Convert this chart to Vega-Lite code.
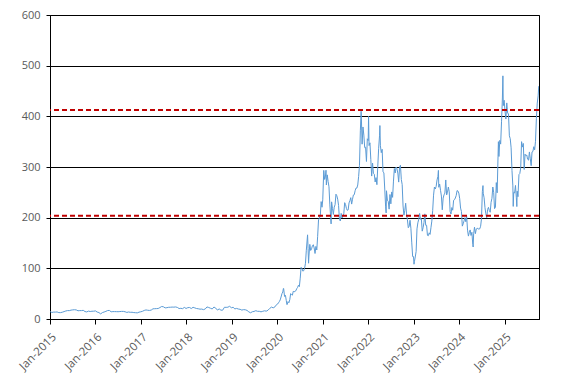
{
  "$schema": "https://vega.github.io/schema/vega-lite/v6.json",
  "width": 489,
  "height": 304,
  "autosize": {"type": "none"},
  "padding": {"left": 50, "top": 15, "right": 28, "bottom": 63},
  "background": "white",
  "config": {
    "view": {"stroke": "black", "strokeWidth": 1},
    "font": "Open Sans"
  },
  "datasets": {
    "price": [
      {"d":"2015-01-02","p":14.6},{"d":"2015-01-16","p":12.9},{"d":"2015-01-30","p":13.6},{"d":"2015-02-13","p":13.6},{"d":"2015-02-27","p":13.9},{"d":"2015-03-13","p":12.6},{"d":"2015-03-27","p":12.6},{"d":"2015-04-10","p":13.4},{"d":"2015-04-24","p":14.6},{"d":"2015-05-08","p":15.8},{"d":"2015-05-22","p":16.6},{"d":"2015-06-05","p":16.5},{"d":"2015-06-19","p":17.5},{"d":"2015-07-03","p":18.0},{"d":"2015-07-17","p":18.3},{"d":"2015-07-31","p":17.9},{"d":"2015-08-14","p":16.2},{"d":"2015-08-28","p":16.6},{"d":"2015-09-11","p":16.6},{"d":"2015-09-25","p":17.1},{"d":"2015-10-09","p":14.7},{"d":"2015-10-23","p":14.0},{"d":"2015-11-06","p":15.5},{"d":"2015-11-20","p":14.8},{"d":"2015-12-04","p":15.3},{"d":"2015-12-18","p":15.4},
      {"d":"2016-01-01","p":16.0},{"d":"2016-01-15","p":13.7},{"d":"2016-01-29","p":12.7},{"d":"2016-02-12","p":10.1},{"d":"2016-02-26","p":12.7},{"d":"2016-03-11","p":13.8},{"d":"2016-03-25","p":15.1},{"d":"2016-04-08","p":16.7},{"d":"2016-04-22","p":16.9},{"d":"2016-05-06","p":14.2},{"d":"2016-05-20","p":14.6},{"d":"2016-06-03","p":14.6},{"d":"2016-06-17","p":14.5},{"d":"2016-07-01","p":14.4},{"d":"2016-07-15","p":14.7},{"d":"2016-07-29","p":15.0},{"d":"2016-08-12","p":15.0},{"d":"2016-08-26","p":14.3},{"d":"2016-09-09","p":13.0},{"d":"2016-09-23","p":13.8},{"d":"2016-10-07","p":13.2},{"d":"2016-10-21","p":13.3},{"d":"2016-11-04","p":12.7},{"d":"2016-11-18","p":12.4},{"d":"2016-12-02","p":12.1},{"d":"2016-12-16","p":13.5},{"d":"2016-12-30","p":14.2},
      {"d":"2017-01-13","p":15.2},{"d":"2017-01-27","p":16.9},{"d":"2017-02-10","p":17.9},{"d":"2017-02-24","p":17.3},{"d":"2017-03-10","p":16.9},{"d":"2017-03-24","p":17.6},{"d":"2017-04-07","p":20.1},{"d":"2017-04-21","p":20.3},{"d":"2017-05-05","p":20.5},{"d":"2017-05-19","p":20.7},{"d":"2017-06-02","p":22.6},{"d":"2017-06-16","p":24.7},{"d":"2017-06-30","p":24.1},{"d":"2017-07-14","p":21.9},{"d":"2017-07-28","p":22.3},{"d":"2017-08-11","p":23.1},{"d":"2017-08-25","p":23.2},{"d":"2017-09-08","p":23.5},{"d":"2017-09-22","p":23.4},{"d":"2017-10-06","p":23.8},{"d":"2017-10-20","p":22.9},{"d":"2017-11-03","p":20.6},{"d":"2017-11-17","p":21.1},{"d":"2017-12-01","p":20.4},{"d":"2017-12-15","p":22.9},{"d":"2017-12-29","p":20.8},
      {"d":"2018-01-12","p":22.4},{"d":"2018-01-26","p":22.7},{"d":"2018-02-09","p":20.7},{"d":"2018-02-23","p":23.1},{"d":"2018-03-09","p":21.9},{"d":"2018-03-23","p":20.7},{"d":"2018-04-06","p":20.2},{"d":"2018-04-20","p":19.4},{"d":"2018-05-04","p":19.6},{"d":"2018-05-18","p":18.5},{"d":"2018-06-01","p":19.8},{"d":"2018-06-15","p":23.8},{"d":"2018-06-29","p":22.7},{"d":"2018-07-13","p":21.2},{"d":"2018-07-27","p":19.8},{"d":"2018-08-10","p":23.6},{"d":"2018-08-24","p":21.5},{"d":"2018-09-07","p":17.6},{"d":"2018-09-21","p":19.9},{"d":"2018-10-05","p":17.4},{"d":"2018-10-19","p":17.4},{"d":"2018-11-02","p":23.1},{"d":"2018-11-16","p":23.0},{"d":"2018-11-30","p":23.3},{"d":"2018-12-14","p":25.1},{"d":"2018-12-28","p":22.2},
      {"d":"2019-01-11","p":23.1},{"d":"2019-01-25","p":19.9},{"d":"2019-02-08","p":20.9},{"d":"2019-02-22","p":19.7},{"d":"2019-03-08","p":19.1},{"d":"2019-03-22","p":17.6},{"d":"2019-04-05","p":18.5},{"d":"2019-04-19","p":18.2},{"d":"2019-05-03","p":16.9},{"d":"2019-05-17","p":14.1},{"d":"2019-05-31","p":12.3},{"d":"2019-06-14","p":14.3},{"d":"2019-06-28","p":14.9},{"d":"2019-07-12","p":16.4},{"d":"2019-07-26","p":15.2},{"d":"2019-08-09","p":15.2},{"d":"2019-08-23","p":14.1},{"d":"2019-09-06","p":15.2},{"d":"2019-09-20","p":16.2},{"d":"2019-10-04","p":15.5},{"d":"2019-10-18","p":17.3},{"d":"2019-11-01","p":20.9},{"d":"2019-11-15","p":23.5},{"d":"2019-11-29","p":22.0},{"d":"2019-12-13","p":24.0},{"d":"2019-12-27","p":28.7},
      {"d":"2020-01-03","p":29.5},{"d":"2020-01-10","p":31.9},{"d":"2020-01-17","p":34.3},{"d":"2020-01-24","p":37.6},{"d":"2020-01-31","p":43.4},{"d":"2020-02-07","p":49.9},{"d":"2020-02-14","p":53.3},{"d":"2020-02-19","p":60.5},{"d":"2020-02-21","p":60.0},{"d":"2020-02-28","p":44.5},{"d":"2020-03-06","p":46.9},{"d":"2020-03-13","p":36.4},{"d":"2020-03-18","p":28.5},{"d":"2020-03-20","p":28.5},{"d":"2020-03-27","p":34.3},{"d":"2020-04-03","p":32.1},{"d":"2020-04-10","p":38.0},{"d":"2020-04-17","p":50.1},{"d":"2020-04-24","p":48.3},{"d":"2020-05-01","p":47.0},{"d":"2020-05-08","p":54.6},{"d":"2020-05-15","p":53.6},{"d":"2020-05-22","p":54.7},{"d":"2020-05-29","p":55.7},{"d":"2020-06-05","p":59.9},{"d":"2020-06-12","p":62.4},{"d":"2020-06-19","p":66.7},{"d":"2020-06-26","p":63.9},{"d":"2020-07-03","p":80.6},{"d":"2020-07-10","p":102.0},{"d":"2020-07-17","p":100.1},{"d":"2020-07-24","p":94.5},{"d":"2020-07-31","p":95.4},{"d":"2020-08-07","p":99.9},{"d":"2020-08-14","p":110.0},{"d":"2020-08-21","p":135.7},{"d":"2020-08-31","p":166.1},{"d":"2020-09-04","p":139.4},{"d":"2020-09-08","p":110.1},{"d":"2020-09-11","p":124.2},{"d":"2020-09-18","p":147.3},{"d":"2020-09-25","p":135.3},{"d":"2020-10-02","p":138.4},{"d":"2020-10-09","p":144.7},{"d":"2020-10-16","p":146.6},{"d":"2020-10-23","p":140.2},{"d":"2020-10-30","p":129.3},{"d":"2020-11-06","p":143.3},{"d":"2020-11-13","p":136.2},{"d":"2020-11-20","p":163.2},{"d":"2020-11-27","p":195.6},{"d":"2020-12-04","p":199.3},{"d":"2020-12-11","p":203.3},{"d":"2020-12-18","p":231.7},{"d":"2020-12-25","p":220.6},{"d":"2020-12-31","p":235.2},
      {"d":"2021-01-08","p":293.3},{"d":"2021-01-15","p":275.4},{"d":"2021-01-22","p":282.0},{"d":"2021-01-26","p":293.6},{"d":"2021-01-29","p":264.5},{"d":"2021-02-05","p":284.5},{"d":"2021-02-12","p":271.4},{"d":"2021-02-19","p":260.9},{"d":"2021-02-26","p":225.2},{"d":"2021-03-05","p":199.3},{"d":"2021-03-08","p":187.7},{"d":"2021-03-12","p":231.2},{"d":"2021-03-19","p":218.3},{"d":"2021-03-26","p":206.2},{"d":"2021-04-02","p":220.6},{"d":"2021-04-09","p":225.7},{"d":"2021-04-16","p":246.3},{"d":"2021-04-23","p":243.3},{"d":"2021-04-30","p":236.5},{"d":"2021-05-07","p":224.2},{"d":"2021-05-14","p":196.6},{"d":"2021-05-21","p":193.5},{"d":"2021-05-28","p":208.4},{"d":"2021-06-04","p":199.3},{"d":"2021-06-11","p":203.3},{"d":"2021-06-18","p":207.8},{"d":"2021-06-25","p":229.6},{"d":"2021-07-02","p":226.0},{"d":"2021-07-09","p":218.2},{"d":"2021-07-16","p":214.4},{"d":"2021-07-23","p":215.3},{"d":"2021-07-30","p":229.1},{"d":"2021-08-06","p":233.4},{"d":"2021-08-13","p":239.5},{"d":"2021-08-20","p":226.8},{"d":"2021-08-27","p":236.4},{"d":"2021-09-03","p":244.7},{"d":"2021-09-10","p":245.3},{"d":"2021-09-17","p":253.2},{"d":"2021-09-24","p":258.4},{"d":"2021-10-01","p":258.4},{"d":"2021-10-08","p":264.5},{"d":"2021-10-15","p":281.0},{"d":"2021-10-22","p":303.2},{"d":"2021-10-29","p":371.3},{"d":"2021-11-04","p":410.0},{"d":"2021-11-05","p":407.4},{"d":"2021-11-12","p":345.0},{"d":"2021-11-19","p":379.0},{"d":"2021-11-26","p":363.0},{"d":"2021-12-03","p":338.3},{"d":"2021-12-10","p":339.0},{"d":"2021-12-17","p":310.9},{"d":"2021-12-24","p":355.7},{"d":"2021-12-31","p":352.3},
      {"d":"2022-01-03","p":399.9},{"d":"2022-01-07","p":342.3},{"d":"2022-01-14","p":347.7},{"d":"2022-01-21","p":314.6},{"d":"2022-01-28","p":282.1},{"d":"2022-02-04","p":307.8},{"d":"2022-02-11","p":287.5},{"d":"2022-02-18","p":285.7},{"d":"2022-02-25","p":270.4},{"d":"2022-03-04","p":279.0},{"d":"2022-03-11","p":265.1},{"d":"2022-03-18","p":301.8},{"d":"2022-03-25","p":336.9},{"d":"2022-04-01","p":361.5},{"d":"2022-04-04","p":381.8},{"d":"2022-04-08","p":341.8},{"d":"2022-04-15","p":328.3},{"d":"2022-04-22","p":335.0},{"d":"2022-04-29","p":290.3},{"d":"2022-05-06","p":288.6},{"d":"2022-05-13","p":256.5},{"d":"2022-05-20","p":221.3},{"d":"2022-05-24","p":209.4},{"d":"2022-05-27","p":253.1},{"d":"2022-06-03","p":234.5},{"d":"2022-06-10","p":232.0},{"d":"2022-06-17","p":216.8},{"d":"2022-06-24","p":245.7},{"d":"2022-07-01","p":227.3},{"d":"2022-07-08","p":250.8},{"d":"2022-07-15","p":240.1},{"d":"2022-07-22","p":272.2},{"d":"2022-07-29","p":297.1},{"d":"2022-08-05","p":288.2},{"d":"2022-08-12","p":300.0},{"d":"2022-08-19","p":296.7},{"d":"2022-08-26","p":288.1},{"d":"2022-09-02","p":270.2},{"d":"2022-09-09","p":299.7},{"d":"2022-09-16","p":303.4},{"d":"2022-09-23","p":275.3},{"d":"2022-09-30","p":265.3},{"d":"2022-10-07","p":223.1},{"d":"2022-10-14","p":204.9},{"d":"2022-10-21","p":214.4},{"d":"2022-10-28","p":228.5},{"d":"2022-11-04","p":207.5},{"d":"2022-11-11","p":195.9},{"d":"2022-11-18","p":180.2},{"d":"2022-11-25","p":182.9},{"d":"2022-12-02","p":194.9},{"d":"2022-12-09","p":179.1},{"d":"2022-12-16","p":150.2},{"d":"2022-12-23","p":123.2},{"d":"2022-12-30","p":123.2},
      {"d":"2023-01-03","p":108.1},{"d":"2023-01-06","p":113.1},{"d":"2023-01-13","p":122.4},{"d":"2023-01-20","p":133.4},{"d":"2023-01-27","p":177.9},{"d":"2023-02-03","p":189.9},{"d":"2023-02-10","p":196.9},{"d":"2023-02-17","p":208.3},{"d":"2023-02-24","p":196.9},{"d":"2023-03-03","p":197.8},{"d":"2023-03-10","p":173.4},{"d":"2023-03-17","p":180.1},{"d":"2023-03-24","p":190.4},{"d":"2023-03-31","p":207.5},{"d":"2023-04-07","p":185.0},{"d":"2023-04-14","p":185.0},{"d":"2023-04-21","p":165.1},{"d":"2023-04-28","p":164.3},{"d":"2023-05-05","p":170.1},{"d":"2023-05-12","p":167.0},{"d":"2023-05-19","p":180.1},{"d":"2023-05-26","p":193.2},{"d":"2023-06-02","p":214.0},{"d":"2023-06-09","p":244.4},{"d":"2023-06-16","p":260.5},{"d":"2023-06-23","p":256.6},{"d":"2023-06-30","p":261.8},{"d":"2023-07-07","p":274.4},{"d":"2023-07-14","p":281.4},{"d":"2023-07-18","p":293.3},{"d":"2023-07-21","p":260.0},{"d":"2023-07-28","p":266.4},{"d":"2023-08-04","p":253.9},{"d":"2023-08-11","p":242.7},{"d":"2023-08-18","p":215.5},{"d":"2023-08-25","p":238.6},{"d":"2023-09-01","p":245.0},{"d":"2023-09-08","p":248.5},{"d":"2023-09-15","p":274.4},{"d":"2023-09-22","p":244.9},{"d":"2023-09-29","p":250.2},{"d":"2023-10-06","p":260.5},{"d":"2023-10-13","p":251.1},{"d":"2023-10-20","p":212.0},{"d":"2023-10-27","p":207.3},{"d":"2023-11-03","p":220.0},{"d":"2023-11-10","p":214.7},{"d":"2023-11-17","p":234.3},{"d":"2023-11-24","p":235.5},{"d":"2023-12-01","p":238.8},{"d":"2023-12-08","p":243.8},{"d":"2023-12-15","p":253.5},{"d":"2023-12-22","p":252.5},{"d":"2023-12-29","p":248.5},
      {"d":"2024-01-05","p":237.5},{"d":"2024-01-12","p":218.9},{"d":"2024-01-19","p":212.2},{"d":"2024-01-26","p":183.3},{"d":"2024-02-02","p":187.9},{"d":"2024-02-09","p":193.6},{"d":"2024-02-16","p":200.0},{"d":"2024-02-23","p":192.0},{"d":"2024-03-01","p":202.6},{"d":"2024-03-08","p":175.3},{"d":"2024-03-15","p":163.6},{"d":"2024-03-22","p":170.8},{"d":"2024-03-29","p":175.8},{"d":"2024-04-05","p":164.9},{"d":"2024-04-12","p":171.1},{"d":"2024-04-19","p":147.1},{"d":"2024-04-22","p":142.1},{"d":"2024-04-26","p":168.3},{"d":"2024-05-03","p":181.2},{"d":"2024-05-10","p":168.5},{"d":"2024-05-17","p":177.5},{"d":"2024-05-24","p":179.2},{"d":"2024-05-31","p":178.1},{"d":"2024-06-07","p":177.5},{"d":"2024-06-14","p":178.0},{"d":"2024-06-21","p":183.0},{"d":"2024-06-28","p":197.9},{"d":"2024-07-05","p":251.5},{"d":"2024-07-10","p":263.3},{"d":"2024-07-12","p":248.2},{"d":"2024-07-19","p":239.2},{"d":"2024-07-26","p":219.8},{"d":"2024-08-02","p":207.7},{"d":"2024-08-09","p":200.0},{"d":"2024-08-16","p":216.1},{"d":"2024-08-23","p":220.3},{"d":"2024-08-30","p":214.1},{"d":"2024-09-06","p":210.7},{"d":"2024-09-13","p":230.3},{"d":"2024-09-20","p":238.3},{"d":"2024-09-27","p":260.5},{"d":"2024-10-04","p":250.1},{"d":"2024-10-11","p":217.8},{"d":"2024-10-18","p":220.7},{"d":"2024-10-25","p":269.2},{"d":"2024-11-01","p":249.0},{"d":"2024-11-08","p":321.2},{"d":"2024-11-11","p":350.0},{"d":"2024-11-15","p":320.7},{"d":"2024-11-22","p":352.6},{"d":"2024-11-29","p":345.2},{"d":"2024-12-06","p":389.2},{"d":"2024-12-13","p":436.2},{"d":"2024-12-17","p":479.9},{"d":"2024-12-20","p":421.1},{"d":"2024-12-27","p":431.7},
      {"d":"2025-01-03","p":410.4},{"d":"2025-01-10","p":394.7},{"d":"2025-01-17","p":426.5},{"d":"2025-01-24","p":406.6},{"d":"2025-01-31","p":404.6},{"d":"2025-02-07","p":361.6},{"d":"2025-02-14","p":355.8},{"d":"2025-02-21","p":337.8},{"d":"2025-02-28","p":293.0},{"d":"2025-03-07","p":262.7},{"d":"2025-03-10","p":222.2},{"d":"2025-03-14","p":250.0},{"d":"2025-03-21","p":248.7},{"d":"2025-03-28","p":263.6},{"d":"2025-04-04","p":239.4},{"d":"2025-04-08","p":221.9},{"d":"2025-04-11","p":252.3},{"d":"2025-04-17","p":241.4},{"d":"2025-04-25","p":285.0},{"d":"2025-05-02","p":287.2},{"d":"2025-05-09","p":298.3},{"d":"2025-05-16","p":350.0},{"d":"2025-05-23","p":339.3},{"d":"2025-05-30","p":346.5},{"d":"2025-06-06","p":295.1},{"d":"2025-06-13","p":325.3},{"d":"2025-06-20","p":322.2},{"d":"2025-06-27","p":323.6},{"d":"2025-07-03","p":315.4},{"d":"2025-07-11","p":313.5},{"d":"2025-07-18","p":329.7},{"d":"2025-07-25","p":316.1},{"d":"2025-08-01","p":302.6},{"d":"2025-08-08","p":329.7},{"d":"2025-08-15","p":330.6},{"d":"2025-08-22","p":340.0},{"d":"2025-08-29","p":333.9},{"d":"2025-09-05","p":350.8},{"d":"2025-09-12","p":395.9},{"d":"2025-09-19","p":426.1},{"d":"2025-09-26","p":440.4},{"d":"2025-10-01","p":459.5}
    ],
    "refs": [{"v": 412.5}, {"v": 204}]
  },
  "layer": [
    {
      "data": {"name": "price"},
      "mark": {"type": "line", "color": "#5B9BD5", "strokeWidth": 1, "clip": true},
      "encoding": {
        "x": {
          "field": "d", "type": "temporal",
          "scale": {"domain": ["2015-01-01", "2025-10-03"]},
          "axis": {
            "title": null, "format": "%b-%Y", "tickCount": {"interval": "year", "step": 1},
            "labelAngle": -45, "labelFontSize": 11.5, "labelColor": "#595959", "labelFont": "Open Sans",
            "grid": false, "domainColor": "black", "tickColor": "black", "tickSize": 5, "labelPadding": 7,
            "labelBound": false
          }
        },
        "y": {
          "field": "p", "type": "quantitative",
          "scale": {"domain": [0, 600], "nice": false},
          "axis": {
            "title": null, "values": [0, 100, 200, 300, 400, 500, 600],
            "labelFontSize": 11, "labelColor": "#595959", "labelFont": "Open Sans",
            "grid": true, "gridColor": "black", "gridOpacity": 1, "gridWidth": 1,
            "domainColor": "black", "tickColor": "black", "tickSize": 4, "labelPadding": 6
          }
        }
      }
    },
    {
      "data": {"name": "refs"},
      "mark": {"type": "rule", "color": "#C00000", "strokeWidth": 2, "strokeDash": [5, 3]},
      "encoding": {
        "y": {"field": "v", "type": "quantitative"}
      }
    }
  ]
}
